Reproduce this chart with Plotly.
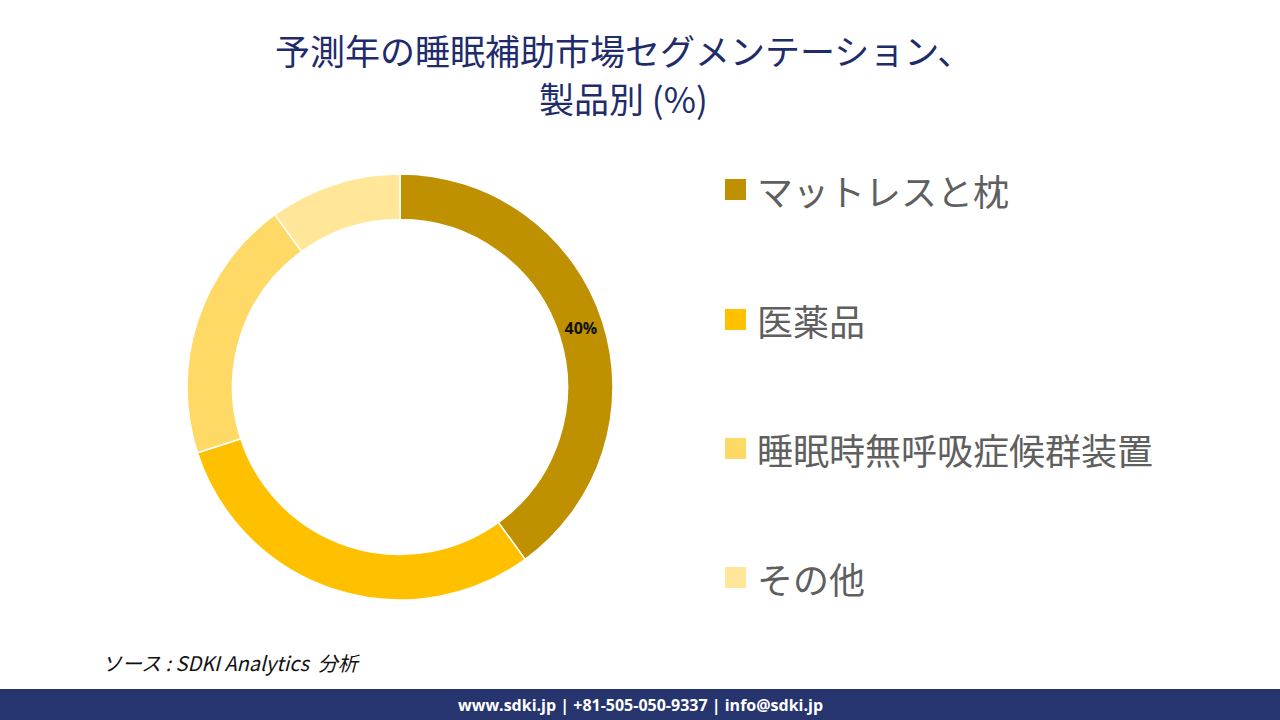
import plotly.graph_objects as go

# data
products = ["マットレスと枕", "医薬品", "睡眠時無呼吸症候群装置", "その他"]
shares = [40, 30, 20, 10]
labels_shown = ["<b>40%</b>", "", "", ""]
title_lines = ["予測年の睡眠補助市場セグメンテーション、", "製品別 (%)"]

COLORS = ["#BF9000", "#FFC000", "#FFD966", "#FFE699"]
NAVY = "#1F2C6B"
GREY = "#5F5F5F"

fig = go.Figure()

fig.add_trace(go.Pie(
    labels=products,
    values=shares,
    text=labels_shown,
    textinfo="text",
    textposition="inside",
    insidetextorientation="horizontal",
    textfont=dict(size=16, color="#111111", family="Open Sans"),
    hole=0.786,
    sort=False,
    direction="clockwise",
    rotation=0,
    marker=dict(colors=COLORS, line=dict(color="white", width=1.5)),
    domain=dict(x=[(400 - 213) / 1280, (400 + 213) / 1280],
                y=[1 - 600 / 720, 1 - 174 / 720]),
    showlegend=False,
))

# legend drawn by hand: square + label
legend_y = [190, 320, 449, 578]
shapes = []
annotations = []
for name, col, py in zip(products, COLORS, legend_y):
    shapes.append(dict(type="rect", xref="paper", yref="paper",
                       x0=725 / 1280, x1=746 / 1280,
                       y0=1 - (py + 10) / 720, y1=1 - (py - 11) / 720,
                       fillcolor=col, line=dict(width=0)))
    annotations.append(dict(text=name, xref="paper", yref="paper",
                            x=755 / 1280, y=1 - py / 720,
                            xanchor="left", yanchor="middle", showarrow=False,
                            font=dict(size=36, color=GREY, family="Noto Sans CJK JP")))

# footer band
shapes.append(dict(type="rect", xref="paper", yref="paper",
                   x0=0, x1=1, y0=0, y1=31 / 720,
                   fillcolor="#27356F", line=dict(width=0), layer="below"))
annotations.append(dict(text="<b>www.sdki.jp | +81-505-050-9337 | info@sdki.jp</b>",
                        xref="paper", yref="paper", x=0.5, y=15 / 720,
                        xanchor="center", yanchor="middle", showarrow=False,
                        font=dict(size=16, color="white", family="Open Sans")))

# source note
annotations.append(dict(text="<i>ソース : SDKI Analytics  分析</i>",
                        xref="paper", yref="paper", x=100 / 1280, y=1 - 662 / 720,
                        xanchor="left", yanchor="middle", showarrow=False,
                        font=dict(size=20, color="#111111", family="Noto Sans CJK JP")))

# title, two lines
for line, ty in zip(title_lines, [50, 98]):
    annotations.append(dict(text=line, xref="paper", yref="paper",
                            x=623 / 1280, y=1 - ty / 720,
                            xanchor="center", yanchor="middle", showarrow=False,
                            font=dict(size=35, color=NAVY, family="Noto Sans CJK JP")))

fig.update_layout(
    width=1280, height=720,
    margin=dict(l=0, r=0, t=0, b=0),
    paper_bgcolor="white",
    plot_bgcolor="white",
    shapes=shapes,
    annotations=annotations,
)

fig.write_html("out.html", config={"displayModeBar": False},
               post_script="document.body.style.margin='0';")
